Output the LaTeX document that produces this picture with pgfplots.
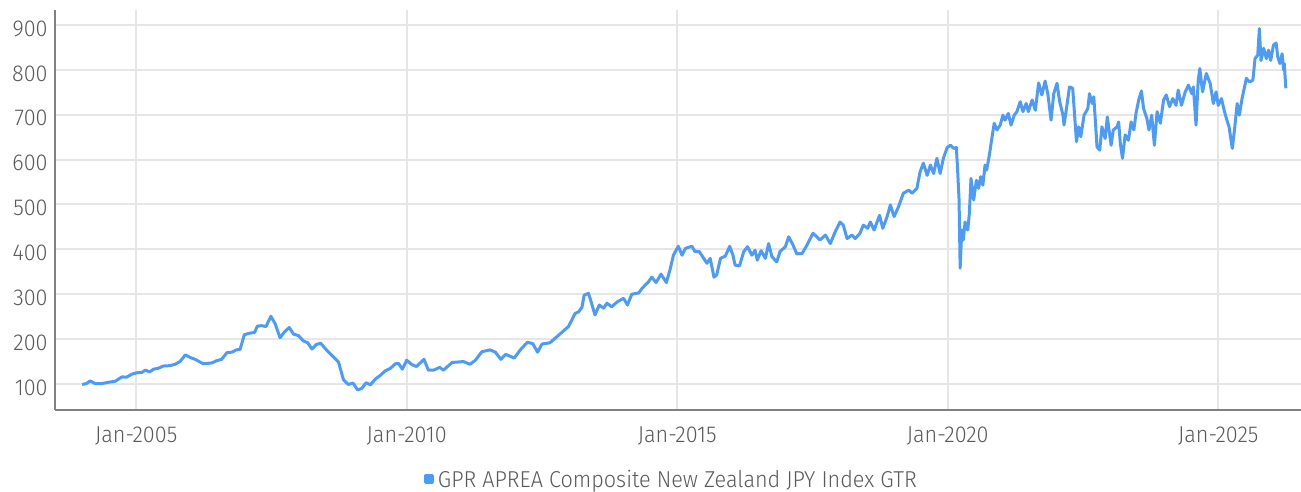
\documentclass[border=0pt]{standalone}
\usepackage{fontspec}
\setmainfont{Fira Sans}[UprightFont=* Light, FakeStretch=0.94]
\usepackage{pgfplots}
\pgfplotsset{compat=1.18}
\definecolor{linec}{HTML}{4D9BF7}
\definecolor{tickc}{HTML}{5A5A5A}
\definecolor{gridc}{HTML}{E6E6E6}
\definecolor{axisc}{HTML}{808080}
\begin{document}
\begin{tikzpicture}
\begin{axis}[
 at={(0,0)}, anchor=south west,
 scale only axis, width=623pt, height=200pt,
 xmin=2003.5, xmax=2026.53, ymin=42.1, ymax=933.4,
 axis x line=bottom, axis y line=left,
 axis line style={axisc, line width=1pt, -},
 xtick={2005,2010,2015,2020,2025},
 xticklabels={Jan-2005,Jan-2010,Jan-2015,Jan-2020,Jan-2025},
 ytick={100,200,...,900},
 major tick length=0pt,
 grid=major, major grid style={gridc, line width=1pt},
 tick label style={font=\fontsize{11.5}{13}\selectfont, text=tickc},
 /pgf/number format/assume math mode=true,
 yticklabel style={inner sep=0pt, anchor=east, xshift=-3.5pt, yshift=-1.8pt},
 xticklabel style={inner sep=0pt, anchor=north, yshift=-8.3pt},
 legend style={at={(0.4955,-0.175)}, anchor=center, draw=none, fill=none,
   font=\fontsize{11.5}{13}\selectfont, text=tickc},
 legend image code/.code={\fill[linec] (0pt,-1.25pt) rectangle (3.5pt,2.25pt);},
]
\addplot[linec, line width=1.5pt, line join=round] coordinates {
(2004.00,99) (2004.08,101) (2004.15,107) (2004.24,101) (2004.37,101) (2004.49,104)
(2004.61,106) (2004.74,116) (2004.82,115) (2004.92,122) (2005.01,125) (2005.11,126)
(2005.17,131) (2005.25,127) (2005.32,133) (2005.41,135) (2005.50,140) (2005.63,141)
(2005.72,144) (2005.81,150) (2005.91,165) (2006.00,159) (2006.09,155) (2006.24,145)
(2006.40,147) (2006.49,152) (2006.58,155) (2006.68,170) (2006.77,171) (2006.85,176)
(2006.92,177) (2007.00,210) (2007.09,213) (2007.19,215) (2007.24,229) (2007.32,230)
(2007.40,228) (2007.49,251) (2007.57,234) (2007.66,203) (2007.74,216) (2007.83,226)
(2007.91,211) (2008.00,208) (2008.09,196) (2008.17,192) (2008.25,178) (2008.33,188)
(2008.41,191) (2008.51,177) (2008.65,160) (2008.74,149) (2008.83,110) (2008.92,99)
(2009.01,102) (2009.09,87) (2009.17,90) (2009.25,103) (2009.33,98) (2009.42,111)
(2009.51,119) (2009.60,129) (2009.70,135) (2009.79,145) (2009.85,146) (2009.92,133)
(2010.00,153) (2010.10,143) (2010.18,139) (2010.32,155) (2010.40,131) (2010.50,131)
(2010.61,137) (2010.68,131) (2010.84,148) (2011.05,150) (2011.17,144) (2011.27,153)
(2011.39,172) (2011.54,176) (2011.64,171) (2011.74,155) (2011.83,166) (2011.99,158)
(2012.10,176) (2012.23,193) (2012.33,190) (2012.42,171) (2012.50,189) (2012.65,192)
(2012.81,209) (2012.99,228) (2013.05,242) (2013.11,257) (2013.18,261) (2013.24,271)
(2013.28,298) (2013.36,302) (2013.40,287) (2013.48,254) (2013.56,276) (2013.64,269)
(2013.70,280) (2013.79,272) (2013.89,283) (2014.01,291) (2014.08,276) (2014.16,300)
(2014.29,303) (2014.35,313) (2014.47,328) (2014.53,338) (2014.61,326) (2014.70,345)
(2014.80,326) (2014.87,356) (2014.93,387) (2015.02,407) (2015.09,387) (2015.15,402)
(2015.27,407) (2015.33,395) (2015.41,395) (2015.49,380) (2015.55,369) (2015.61,380)
(2015.68,338) (2015.73,343) (2015.80,380) (2015.89,385) (2015.97,407) (2016.03,387)
(2016.07,365) (2016.15,363) (2016.23,395) (2016.30,406) (2016.38,387) (2016.44,398)
(2016.48,376) (2016.55,397) (2016.63,380) (2016.69,413) (2016.75,384) (2016.84,372)
(2016.90,395) (2017.00,406) (2017.06,428) (2017.14,410) (2017.21,390) (2017.31,391)
(2017.40,410) (2017.51,436) (2017.58,428) (2017.64,421) (2017.74,432) (2017.83,413)
(2017.92,439) (2018.01,461) (2018.07,454) (2018.14,424) (2018.23,432) (2018.29,424)
(2018.38,436) (2018.44,454) (2018.52,447) (2018.57,461) (2018.64,443) (2018.74,476)
(2018.80,447) (2018.88,473) (2018.94,499) (2019.01,473) (2019.09,495) (2019.18,525)
(2019.28,532) (2019.34,525) (2019.43,536) (2019.49,573) (2019.55,592) (2019.62,565)
(2019.68,588) (2019.74,569) (2019.80,603) (2019.86,569) (2019.92,603) (2019.99,627)
(2020.05,632) (2020.11,625) (2020.16,627) (2020.18,584) (2020.21,510) (2020.23,358)
(2020.26,443) (2020.29,421) (2020.32,461) (2020.37,443) (2020.40,480) (2020.43,558)
(2020.48,510) (2020.53,554) (2020.57,536) (2020.61,562) (2020.65,543) (2020.69,588)
(2020.72,577) (2020.77,610) (2020.82,651) (2020.86,681) (2020.91,666) (2020.97,677)
(2021.02,699) (2021.06,688) (2021.12,703) (2021.17,677) (2021.23,699) (2021.28,707)
(2021.34,729) (2021.39,707) (2021.45,725) (2021.49,707) (2021.56,733) (2021.62,710)
(2021.68,771) (2021.74,744) (2021.80,775) (2021.85,747) (2021.91,688) (2021.96,747)
(2022.02,770) (2022.07,729) (2022.13,699) (2022.15,677) (2022.20,718) (2022.25,762)
(2022.31,759) (2022.38,640) (2022.42,673) (2022.46,651) (2022.52,699) (2022.59,714)
(2022.62,747) (2022.67,725) (2022.70,740) (2022.76,628) (2022.81,621) (2022.85,673)
(2022.91,647) (2022.95,695) (2023.02,632) (2023.06,666) (2023.13,673) (2023.16,684)
(2023.19,636) (2023.23,603) (2023.28,655) (2023.34,643) (2023.39,684) (2023.44,666)
(2023.48,703) (2023.53,733) (2023.58,753) (2023.62,714) (2023.68,692) (2023.72,666)
(2023.77,699) (2023.82,632) (2023.87,707) (2023.93,681) (2023.99,733) (2024.04,744)
(2024.10,718) (2024.16,736) (2024.22,721) (2024.26,755) (2024.32,721) (2024.39,751)
(2024.45,766) (2024.51,747) (2024.54,762) (2024.59,677) (2024.63,777) (2024.66,803)
(2024.71,751) (2024.78,792) (2024.85,770) (2024.91,725) (2024.96,751) (2025.00,721)
(2025.06,736) (2025.11,710) (2025.15,692) (2025.20,673) (2025.26,625) (2025.30,666)
(2025.35,725) (2025.39,699) (2025.44,736) (2025.52,781) (2025.58,773) (2025.64,777)
(2025.68,825) (2025.73,833) (2025.76,892) (2025.79,821) (2025.84,848) (2025.89,825)
(2025.93,844) (2025.97,821) (2026.02,855) (2026.07,860) (2026.10,829) (2026.14,814)
(2026.18,836) (2026.21,799) (2026.22,814) (2026.25,759)
};
\addlegendentry{GPR APREA Composite New Zealand JPY Index GTR}
\end{axis}
\pgfresetboundingbox
\path (-27.5pt,-41pt) rectangle (623pt,205pt);
\end{tikzpicture}
\end{document}
